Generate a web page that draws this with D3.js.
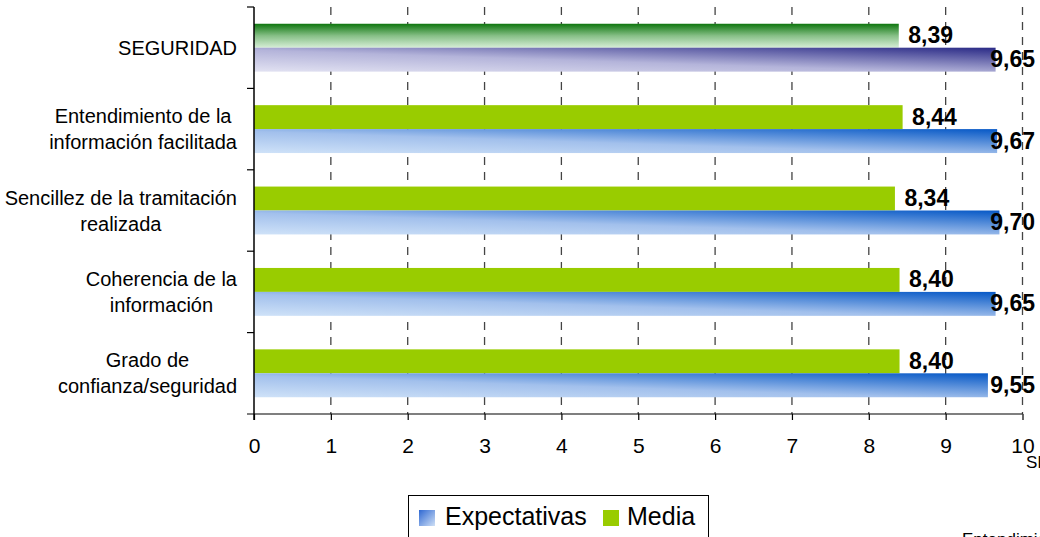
<!DOCTYPE html>
<html>
<head>
<meta charset="utf-8">
<script src="https://cdn.jsdelivr.net/npm/d3@7"></script>
<style>
  html, body { margin: 0; padding: 0; background: #fff; }
  svg { display: block; font-family: "Liberation Sans", Arial, sans-serif; }
</style>
</head>
<body>
<svg id="chart" width="1040" height="537"></svg>
<script>
// Category labels (one entry per line of the wrapped label)
const categories = [
  "SEGURIDAD",
  "Entendimiento de la información facilitada",
  "Sencillez de la tramitación realizada",
  "Coherencia de la información",
  "Grado de confianza/seguridad"
];
const categoryLines = [
  ["SEGURIDAD"],
  ["Entendimiento de la", "información facilitada"],
  ["Sencillez de la tramitación", "realizada"],
  ["Coherencia de la", "información"],
  ["Grado de", "confianza/seguridad"]
];
const seriesNames = ["Media", "Expectativas"];
const media = [8.39, 8.44, 8.34, 8.40, 8.40];
const expectativas = [9.65, 9.67, 9.70, 9.65, 9.55];
const xTicks = [0, 1, 2, 3, 4, 5, 6, 7, 8, 9, 10];

const W = 1040, H = 537;
const plot = { left: 254, right: 1022.5, top: 7, bottom: 414 };

const svg = d3.select("#chart");
const defs = svg.append("defs");

function gradient(id, x1, y1, x2, y2, stops) {
  const g = defs.append("linearGradient").attr("id", id)
    .attr("x1", x1).attr("y1", y1).attr("x2", x2).attr("y2", y2);
  stops.forEach(([o, c]) => g.append("stop").attr("offset", o).attr("stop-color", c));
}
// blue: light at lower-left, saturated at upper-right
gradient("gBlue", 0, 1, 1, 0, [[0, "#cfe2f8"], [0.45, "#a2c0ec"], [1, "#0658c6"]]);
// purple variant for the headline row
gradient("gPurple", 0, 1, 1, 0, [[0, "#e2e2f2"], [0.45, "#b4b4da"], [1, "#2a2a86"]]);
// dark green fading downward for the headline row
gradient("gGreen", 0, 0, 0, 1, [[0, "#0e760e"], [0.5, "#86bf86"], [1, "#d6eed6"]]);
// legend swatch for the blue series
gradient("gBlueLeg", 0, 0, 1, 1, [[0, "#2f68d2"], [1, "#cfe0f6"]]);

const x = d3.scaleLinear().domain([0, 10]).range([plot.left, plot.right]);
const y0 = d3.scaleBand().domain(categories).range([plot.top, plot.bottom]).padding(0);
const y1 = d3.scaleBand().domain(seriesNames).range([0, y0.bandwidth()])
  .paddingInner(0).paddingOuter(0.7);

// vertical dashed gridlines
svg.append("g").selectAll("line")
  .data(xTicks.filter(d => d > 0))
  .join("line")
  .attr("x1", d => x(d)).attr("x2", d => x(d))
  .attr("y1", plot.top).attr("y2", plot.bottom)
  .attr("stroke", "#444").attr("stroke-width", 1.3)
  .attr("stroke-dasharray", "8,7");

// rows of data
const rows = categories.map((c, i) => ({
  cat: c, i,
  values: [
    { name: "Media", v: media[i] },
    { name: "Expectativas", v: expectativas[i] }
  ]
}));

function fillFor(row, name) {
  if (row.i === 0) return name === "Media" ? "url(#gGreen)" : "url(#gPurple)";
  return name === "Media" ? "#99cc00" : "url(#gBlue)";
}

const groups = svg.append("g").selectAll("g")
  .data(rows).join("g")
  .attr("transform", d => `translate(0,${y0(d.cat)})`);

groups.selectAll("rect")
  .data(d => d.values.map(v => ({ ...v, row: d })))
  .join("rect")
  .attr("x", x(0))
  .attr("y", d => y1(d.name))
  .attr("width", d => x(d.v) - x(0))
  .attr("height", y1.bandwidth())
  .attr("fill", d => fillFor(d.row, d.name));

// value labels
const fmt = v => d3.format(".2f")(v).replace(".", ",");
groups.selectAll("text.val")
  .data(d => d.values)
  .join("text")
  .attr("class", "val")
  .attr("y", d => y1(d.name) + y1.bandwidth() / 2 + 7.5)
  .attr("font-size", 23).attr("font-weight", "bold").attr("fill", "#000")
  .text(d => fmt(d.v))
  .each(function (d) {
    const w = this.getComputedTextLength();
    const px = Math.min(x(d.v) + 9.5, W - 5 - w);
    d3.select(this).attr("x", px);
  });

// x axis
const xAxis = d3.axisBottom(x).tickValues(xTicks).tickSize(6).tickPadding(18.5)
  .tickFormat(d3.format("d"));
const gx = svg.append("g").attr("transform", `translate(0,${plot.bottom})`).call(xAxis);
gx.select(".domain").remove();
gx.selectAll(".tick line").attr("stroke", "#000").attr("stroke-width", 1.2);
gx.selectAll(".tick text").attr("font-size", 21).attr("fill", "#000")
  .attr("font-family", "'Liberation Sans', Arial, sans-serif");
gx.append("line").attr("x1", plot.left - 7).attr("x2", plot.right)
  .attr("y1", 0).attr("y2", 0).attr("stroke", "#000").attr("stroke-width", 1.2);

// y axis line and category separators
svg.append("line").attr("x1", plot.left).attr("x2", plot.left)
  .attr("y1", plot.top).attr("y2", plot.bottom + 6)
  .attr("stroke", "#000").attr("stroke-width", 1.5);
const sepY = categories.map(c => y0(c));
svg.append("g").selectAll("line").data(sepY).join("line")
  .attr("x1", plot.left - 7).attr("x2", plot.left)
  .attr("y1", d => d).attr("y2", d => d)
  .attr("stroke", "#000").attr("stroke-width", 1.2);

// category labels: block right-aligned, lines centered inside it
const labelRight = 237, lineH = 26, labelSize = 20;
categories.forEach((c, i) => {
  const lines = categoryLines[i];
  const g = svg.append("g");
  const texts = lines.map(t => g.append("text").attr("font-size", labelSize)
    .attr("fill", "#000").attr("text-anchor", "middle").text(t));
  const maxW = d3.max(texts, t => t.node().getComputedTextLength());
  const cx = labelRight - maxW / 2;
  const mid = y0(c) + y0.bandwidth() / 2;
  const firstBase = mid - (lines.length - 1) * lineH / 2 + 7;
  texts.forEach((t, k) => t.attr("x", cx).attr("y", firstBase + k * lineH));
});

// legend
const leg = svg.append("g");
leg.append("rect").attr("x", 408.5).attr("y", 495.5).attr("width", 300).attr("height", 60)
  .attr("fill", "#fff").attr("stroke", "#000").attr("stroke-width", 1);
const legItems = [
  { name: "Expectativas", fill: "url(#gBlueLeg)", sx: 419, tx: 445 },
  { name: "Media", fill: "#99cc00", sx: 603, tx: 627 }
];
legItems.forEach(d => {
  leg.append("rect").attr("x", d.sx).attr("y", 510).attr("width", 16).attr("height", 16)
    .attr("fill", d.fill);
  leg.append("text").attr("x", d.tx).attr("y", 525).attr("font-size", 25)
    .attr("fill", "#000").text(d.name);
});

// neighbouring text fragments at the edge of the canvas
svg.append("text").attr("x", 1026).attr("y", 468).attr("font-size", 17).attr("fill", "#000").text("SI");
svg.append("text").attr("x", 962).attr("y", 544.5).attr("font-size", 17).attr("fill", "#000").text("Entendimiento");
</script>
</body>
</html>
